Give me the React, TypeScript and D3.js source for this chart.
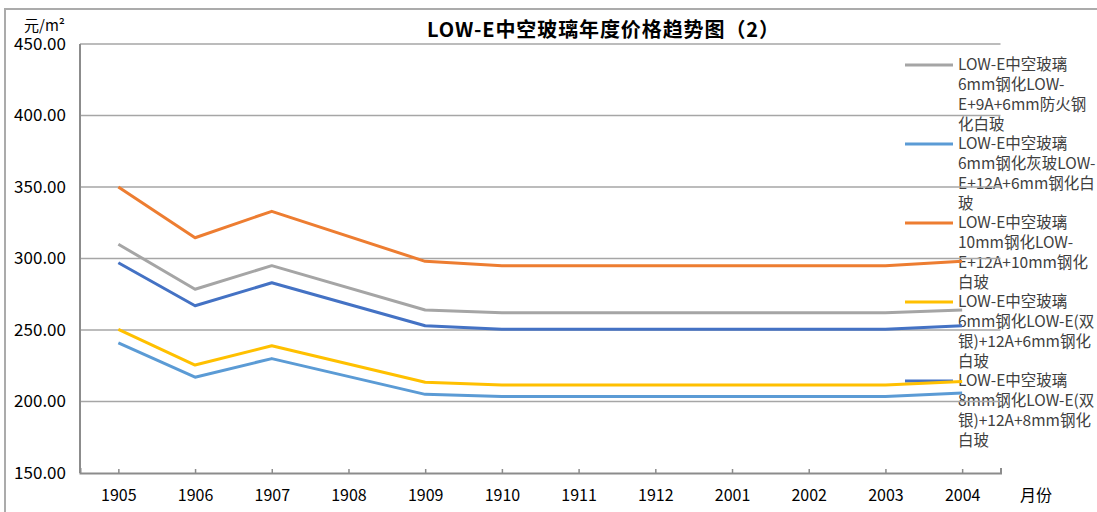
import React, { useEffect, useRef } from 'react';
import * as d3 from 'd3';

// categories (月份)
const months = ['1905', '1906', '1907', '1908', '1909', '1910', '1911', '1912', '2001', '2002', '2003', '2004'];

// series values, 1908 has no data (Excel connects the gap)
const fireproof6 = [310, 278.5, 295, null, 264, 262, 262, 262, 262, 262, 262, 264];
const grey6 = [241, 217, 230, null, 205, 203.5, 203.5, 203.5, 203.5, 203.5, 203.5, 206];
const tempered10 = [350, 314.5, 333, null, 298, 295, 295, 295, 295, 295, 295, 298];
const silver6 = [250.5, 225.5, 239, null, 213.5, 211.5, 211.5, 211.5, 211.5, 211.5, 211.5, 214];
const silver8 = [297, 267, 283, null, 253, 250.5, 250.5, 250.5, 250.5, 250.5, 250.5, 253];

const yTicks = [150, 200, 250, 300, 350, 400, 450];

const legendNames = [
  ['LOW-E中空玻璃', '6mm钢化LOW-', 'E+9A+6mm防火钢', '化白玻'],
  ['LOW-E中空玻璃', '6mm钢化灰玻LOW-', 'E+12A+6mm钢化白', '玻'],
  ['LOW-E中空玻璃', '10mm钢化LOW-', 'E+12A+10mm钢化', '白玻'],
  ['LOW-E中空玻璃', '6mm钢化LOW-E(双', '银)+12A+6mm钢化', '白玻'],
  ['LOW-E中空玻璃', '8mm钢化LOW-E(双', '银)+12A+8mm钢化', '白玻'],
];

const seriesValues = [fireproof6, grey6, tempered10, silver6, silver8];
const colors = ['#A5A5A5', '#5B9BD5', '#ED7D31', '#FFC000', '#4472C4'];

const FONT = '"Noto Sans CJK SC", "Noto Sans", sans-serif';

const App: React.FC = () => {
  const svgRef = useRef<SVGSVGElement | null>(null);

  useEffect(() => {
    document.body.style.margin = '0';
    if (!svgRef.current) return;

    const width = 1097;
    const height = 512;
    const left = 80;
    const right = 1000.5;
    const top = 44;
    const bottom = 473;

    const svg = d3.select(svgRef.current)
      .attr('width', width)
      .attr('height', height)
      .style('display', 'block')
      .style('font-family', FONT);

    svg.selectAll('*').remove();

    const x = d3.scalePoint<string>()
      .domain(months)
      .range([left, right])
      .padding(0.5);

    const y = d3.scaleLinear()
      .domain([150, 450])
      .range([bottom, top]);

    // outer frame
    svg.append('path')
      .attr('d', `M5,${height} L5,9 L${width},9`)
      .attr('fill', 'none')
      .attr('stroke', '#ababab')
      .attr('stroke-width', 2);

    // title
    svg.append('text')
      .attr('x', 603)
      .attr('y', 37)
      .attr('text-anchor', 'middle')
      .attr('font-size', 20)
      .attr('font-weight', 'bold')
      .attr('textLength', 352)
      .attr('lengthAdjust', 'spacing')
      .attr('fill', '#000')
      .text('LOW-E中空玻璃年度价格趋势图（2）');

    // unit
    svg.append('text')
      .attr('x', 24)
      .attr('y', 31)
      .attr('font-size', 15)
      .attr('fill', '#000')
      .text('元/m²');

    // legend (drawn under the plot, as in the source)
    const legend = svg.append('g');
    legendNames.forEach((lines, i) => {
      const ly = 65 + i * 79;
      legend.append('line')
        .attr('x1', 905)
        .attr('x2', 953)
        .attr('y1', ly)
        .attr('y2', ly)
        .attr('stroke', colors[i])
        .attr('stroke-width', 3);
      const t = legend.append('text')
        .attr('font-size', 15.5)
        .attr('fill', '#404040');
      lines.forEach((s, j) => {
        t.append('tspan')
          .attr('x', 958)
          .attr('y', ly + j * 20)
          .attr('dy', '0.35em')
          .text(s);
      });
    });

    // gridlines
    svg.append('g')
      .selectAll('line')
      .data(yTicks.filter(d => d !== 150))
      .join('line')
      .attr('x1', left)
      .attr('x2', right)
      .attr('y1', d => y(d))
      .attr('y2', d => y(d))
      .attr('stroke', '#a6a6a6')
      .attr('stroke-width', 1.5);

    // y axis labels
    svg.append('g')
      .attr('transform', `translate(${left},0)`)
      .call(d3.axisLeft(y).tickValues(yTicks).tickFormat(d3.format('.2f')).tickSize(0).tickPadding(14))
      .call(g => g.select('.domain').remove())
      .call(g => g.selectAll('text')
        .attr('font-family', FONT)
        .attr('font-size', 17)
        .attr('fill', '#000'));

    // y axis line
    svg.append('line')
      .attr('x1', left)
      .attr('x2', left)
      .attr('y1', top)
      .attr('y2', bottom)
      .attr('stroke', '#8c8c8c')
      .attr('stroke-width', 2);

    // series
    const line = d3.line<[string, number]>()
      .x(d => x(d[0]) as number)
      .y(d => y(d[1]));

    seriesValues.forEach((vals, i) => {
      const pts = months
        .map((m, k) => [m, vals[k]] as [string, number | null])
        .filter(p => p[1] != null) as [string, number][];
      svg.append('path')
        .datum(pts)
        .attr('fill', 'none')
        .attr('stroke', colors[i])
        .attr('stroke-width', 3)
        .attr('stroke-linejoin', 'round')
        .attr('d', line);
    });

    // x axis
    svg.append('g')
      .attr('transform', `translate(0,${bottom})`)
      .call(d3.axisBottom(x).tickSizeInner(-4).tickSizeOuter(-5).tickPadding(17))
      .call(g => g.select('.domain').attr('stroke', '#8c8c8c').attr('stroke-width', 2))
      .call(g => g.selectAll('.tick line').attr('stroke', '#8c8c8c').attr('stroke-width', 1.5))
      .call(g => g.selectAll('text')
        .attr('font-family', FONT)
        .attr('font-size', 16)
        .attr('fill', '#000'));

    svg.append('text')
      .attr('x', 1020)
      .attr('y', 501)
      .attr('font-size', 16)
      .attr('fill', '#000')
      .text('月份');
  }, []);

  return <svg ref={svgRef}></svg>;
};

export default App;
